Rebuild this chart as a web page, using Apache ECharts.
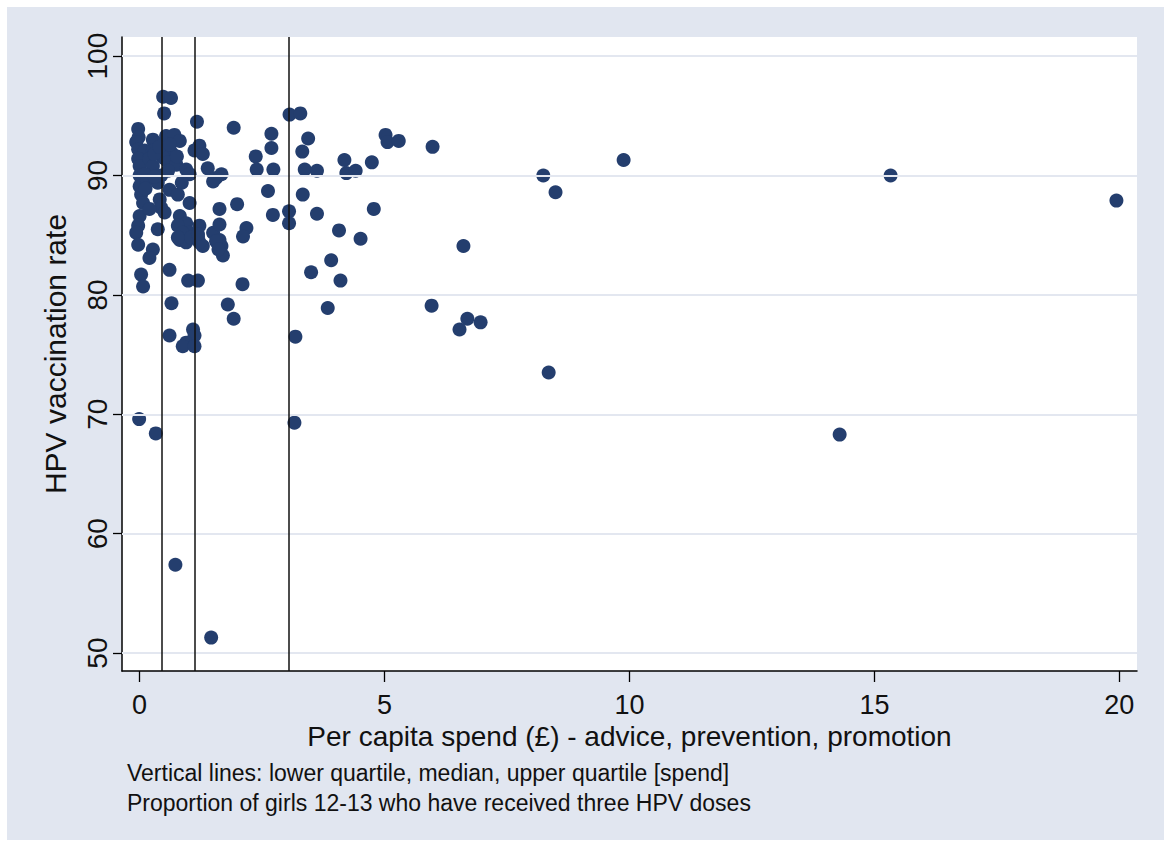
<!DOCTYPE html>
<html>
<head>
<meta charset="utf-8">
<script src="https://cdn.jsdelivr.net/npm/echarts@6/dist/echarts.min.js"></script>
<style>
html,body{margin:0;padding:0;background:#fff;}
#bg{position:absolute;left:7px;top:7px;width:1157px;height:833px;background:#E1E6F0;}
#chart{position:absolute;left:0;top:0;width:1164px;height:847px;}
</style>
</head>
<body>
<div id="bg"></div>
<div id="chart"></div>
<script>
// ---- data ----
const xTicks = [0, 5, 10, 15, 20];
const yTicks = [50, 60, 70, 80, 90, 100];
const quartiles = [0.45, 1.12, 3.04]; // lower quartile, median, upper quartile of spend
const xTitle = 'Per capita spend (£) - advice, prevention, promotion';
const yTitle = 'HPV vaccination rate';
const note1 = 'Vertical lines: lower quartile, median, upper quartile [spend]';
const note2 = 'Proportion of girls 12-13 who have received three HPV doses';

const spend = [
  0.48, 0.64, 0.50, 1.17, 1.92,
  -0.03, -0.02, -0.07, -0.03,
  0.54, 0.71, 0.82, 0.27, 0.34,
  0.10, 0.27, 0.51, 0.65,
  -0.03, 0.00, 0.20, 0.27, 0.48, 0.58,
  0.75, 0.95, 1.02, 1.12, 1.22, 1.29,
  1.39, 1.56, 1.67, 1.50,
  0.00, 0.10, 0.00, 0.03, 0.07, 0.37, 0.44,
  0.61, 0.78, 0.41, 0.44, 1.02, 1.63, 1.99,
  0.00, -0.03, 0.20, 0.51, 0.82, 0.95, 0.78, 1.02,
  1.22, 1.19, 1.50, 1.63, 2.18, 2.11, -0.07, -0.03,
  0.27, 0.20, 0.82, 0.95, 1.29, 1.22, 1.63, 1.67, 1.70,
  0.37, 0.88, 0.78, 1.05, 1.19, 1.56, 1.61,
  0.61, 0.03, 0.07, 0.99, 1.19, 2.10,
  0.65, 1.80, 1.92, 0.61,
  1.09, 1.12, 0.95, 0.88, 1.12,
  -0.01, 0.33, 0.73, 1.46,
  0.30, 0.40, 0.62, 0.76, 0.15, 0.30, 0.86, 0.12, 0.58,
  2.69, 2.69, 2.37, 2.39, 2.73, 2.62, 2.72, 3.05, 3.05,
  3.06, 3.28, 3.44, 3.32, 3.37, 3.62, 4.18, 4.22, 4.41, 4.74,
  3.33, 3.62, 4.78, 4.07, 4.51, 3.91, 3.50, 4.10, 3.84, 3.18, 3.16,
  5.02, 5.06, 5.29, 5.98, 5.96, 6.53, 6.69, 6.96, 6.61,
  8.24, 8.49, 8.35, 9.88, 15.33, 14.29, 19.94
];
const rate = [
  96.6, 96.5, 95.2, 94.5, 94.0,
  93.9, 93.2, 92.8, 92.2,
  93.3, 93.4, 92.9, 93.0, 92.7,
  92.1, 92.1, 92.2, 91.9,
  91.4, 90.8, 91.4, 90.8, 91.5, 91.1,
  90.9, 90.5, 90.1, 92.1, 92.5, 91.8,
  90.6, 89.8, 90.1, 89.5,
  90.0, 90.1, 89.1, 88.4, 87.7, 89.4, 90.0,
  88.8, 88.4, 88.0, 87.3, 87.7, 87.2, 87.6,
  86.6, 85.8, 87.2, 86.9, 86.6, 86.0, 85.8, 85.2,
  85.8, 84.9, 85.2, 85.9, 85.6, 84.9, 85.2, 84.2,
  83.8, 83.1, 84.6, 84.4, 84.1, 84.4, 84.6, 84.1, 83.3,
  85.5, 85.2, 84.8, 84.8, 85.1, 84.5, 83.8,
  82.1, 81.7, 80.7, 81.2, 81.2, 80.9,
  79.3, 79.2, 78.0, 76.6,
  77.1, 76.6, 76.0, 75.7, 75.7,
  69.6, 68.4, 57.4, 51.3,
  91.8, 92.4, 92.6, 91.6, 89.6, 89.9, 89.4, 88.9, 90.4,
  93.5, 92.3, 91.6, 90.5, 90.5, 88.7, 86.7, 87.0, 86.0,
  95.1, 95.2, 93.1, 92.0, 90.5, 90.4, 91.3, 90.2, 90.4, 91.1,
  88.4, 86.8, 87.2, 85.4, 84.7, 82.9, 81.9, 81.2, 78.9, 76.5, 69.3,
  93.4, 92.8, 92.9, 92.4, 79.1, 77.1, 78.0, 77.7, 84.1,
  90.0, 88.6, 73.5, 91.3, 90.0, 68.3, 87.9
];

const font = "'Liberation Sans', Arial, sans-serif";
const chart = echarts.init(document.getElementById('chart'), null, {renderer: 'svg'});
const points = spend.map((x, i) => [x, rate[i]]);

chart.setOption({
  animation: false,
  backgroundColor: 'transparent',
  textStyle: {fontFamily: font},
  grid: {left: 122, right: 27, top: 37, bottom: 176, show: true, backgroundColor: '#ffffff', borderWidth: 0},
  xAxis: {
    type: 'value', min: -0.36, max: 20.36,
    axisLine: {show: true, onZero: false, lineStyle: {color: '#000', width: 1.5}},
    axisTick: {show: true, length: 11, customValues: xTicks, lineStyle: {color: '#000', width: 1.3}},
    axisLabel: {customValues: xTicks, fontSize: 27, color: '#111', margin: 20, fontFamily: font},
    splitLine: {show: false},
    name: xTitle, nameLocation: 'middle', nameGap: 50,
    nameTextStyle: {fontSize: 28, color: '#111', fontFamily: font}
  },
  yAxis: {
    type: 'value', min: 48.5, max: 101.6,
    axisLine: {show: true, onZero: false, lineStyle: {color: '#000', width: 1.5}},
    axisTick: {show: true, length: 9, customValues: yTicks, lineStyle: {color: '#000', width: 1.3}},
    axisLabel: {customValues: yTicks, fontSize: 28, color: '#111', margin: 11, rotate: 90, fontFamily: font},
    splitLine: {show: false},
    name: yTitle, nameLocation: 'middle', nameGap: 52, nameRotate: 90,
    nameTextStyle: {fontSize: 30, color: '#111', fontFamily: font}
  },
  graphic: [
    {type: 'text', left: 127, top: 761, style: {text: note1, fontSize: 23, fill: '#111', fontFamily: font}},
    {type: 'text', left: 127, top: 791, style: {text: note2, fontSize: 23, fill: '#111', fontFamily: font}}
  ],
  series: [
    {
      type: 'scatter', data: [], z: 1, silent: true,
      markLine: {
        silent: true, symbol: 'none', label: {show: false}, animation: false,
        lineStyle: {color: '#E3E7F0', width: 2, type: 'solid'},
        emphasis: {disabled: true},
        data: yTicks.map(v => ({yAxis: v}))
      }
    },
    {
      type: 'scatter', data: [], z: 2, silent: true,
      markLine: {
        silent: true, symbol: 'none', label: {show: false}, animation: false,
        lineStyle: {color: '#111', width: 1.5, type: 'solid'},
        emphasis: {disabled: true},
        data: quartiles.map(v => ({xAxis: v}))
      }
    },
    {
      type: 'scatter', data: points, z: 3,
      symbol: 'circle', symbolSize: 14,
      itemStyle: {color: '#243E6E', opacity: 1}
    }
  ]
});
</script>
</body>
</html>
